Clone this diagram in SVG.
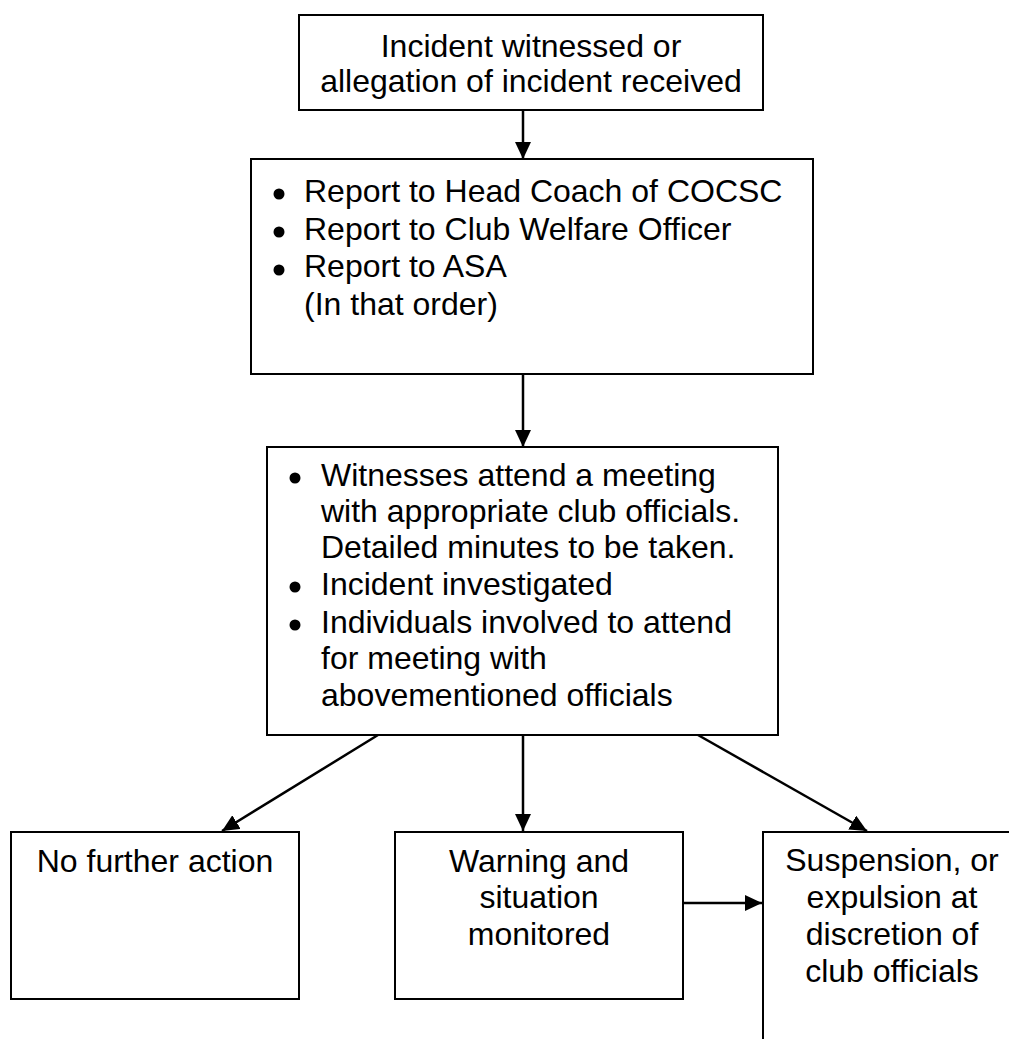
<svg xmlns="http://www.w3.org/2000/svg" width="1009" height="1039" viewBox="0 0 1009 1039">
<style>
.box{fill:#fff;stroke:#000;stroke-width:2}
.t{font-family:"Liberation Sans",Arial,sans-serif;font-size:32px;fill:#000}
.c{text-anchor:middle}
.ln{stroke:#000;stroke-width:2.5;fill:none;marker-end:url(#ah)}
.b{fill:#000}
</style>
<defs>
<marker id="ah" markerUnits="userSpaceOnUse" markerWidth="17" markerHeight="16" refX="17" refY="8" orient="auto" viewBox="0 0 17 16">
<path d="M0,0 L17,8 L0,16 z" fill="#000"/>
</marker>
</defs>
<rect width="1009" height="1039" fill="#fff"/>
<g id="connectors">
<line class="ln" x1="523" y1="111" x2="523" y2="159"/>
<line class="ln" x1="523" y1="374" x2="523" y2="447"/>
<line class="ln" x1="523" y1="735" x2="523" y2="831"/>
<line class="ln" x1="378" y1="735" x2="222" y2="831"/>
<line class="ln" x1="698" y1="735" x2="867" y2="831"/>
<line class="ln" x1="683" y1="903" x2="762" y2="903"/>
</g>
<g id="n1">
<rect class="box" x="299" y="15" width="464" height="95"/>
<text class="t c" x="531" y="57">Incident witnessed or</text>
<text class="t c" x="531" y="92">allegation of incident received</text>
</g>
<g id="n2">
<rect class="box" x="251" y="159" width="562" height="215"/>
<circle class="b" cx="279" cy="194" r="5.5"/>
<circle class="b" cx="279" cy="232" r="5.5"/>
<circle class="b" cx="279" cy="270" r="5.5"/>
<text class="t" x="304" y="202">Report to Head Coach of COCSC</text>
<text class="t" x="304" y="240">Report to Club Welfare Officer</text>
<text class="t" x="304" y="277">Report to ASA</text>
<text class="t" x="304" y="315">(In that order)</text>
</g>
<g id="n3">
<rect class="box" x="267" y="447" width="511" height="288"/>
<circle class="b" cx="295" cy="478" r="5.5"/>
<circle class="b" cx="295" cy="587" r="5.5"/>
<circle class="b" cx="295" cy="625" r="5.5"/>
<text class="t" x="321" y="486">Witnesses attend a meeting</text>
<text class="t" x="321" y="522">with appropriate club officials.</text>
<text class="t" x="321" y="558">Detailed minutes to be taken.</text>
<text class="t" x="321" y="595">Incident investigated</text>
<text class="t" x="321" y="633">Individuals involved to attend</text>
<text class="t" x="321" y="669">for meeting with</text>
<text class="t" x="321" y="706">abovementioned officials</text>
</g>
<g id="n4">
<rect class="box" x="11" y="832" width="288" height="167"/>
<text class="t c" x="155" y="872">No further action</text>
</g>
<g id="n5">
<rect class="box" x="395" y="832" width="288" height="167"/>
<text class="t c" x="539" y="872">Warning and</text>
<text class="t c" x="539" y="908">situation</text>
<text class="t c" x="539" y="945">monitored</text>
</g>
<g id="n6">
<rect class="box" x="763" y="832" width="300" height="260"/>
<text class="t c" x="892" y="871">Suspension, or</text>
<text class="t c" x="892" y="908">expulsion at</text>
<text class="t c" x="892" y="945">discretion of</text>
<text class="t c" x="892" y="982">club officials</text>
</g>
</svg>
